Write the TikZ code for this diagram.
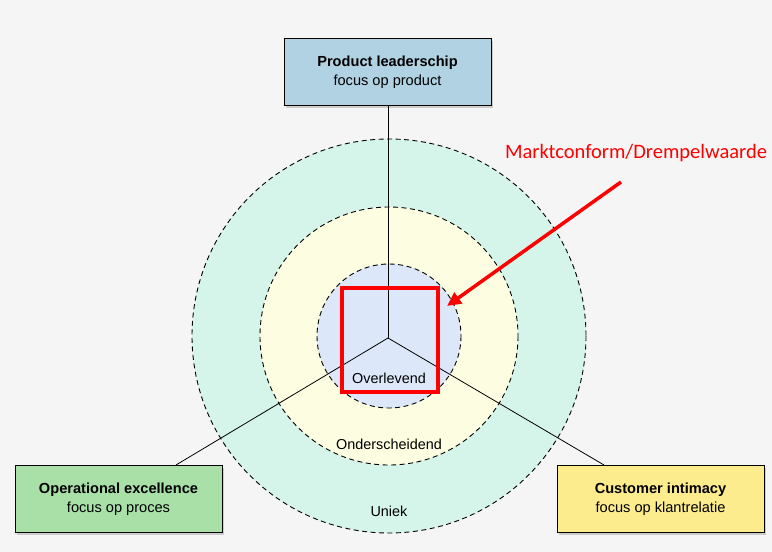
\documentclass[tikz,border=0pt]{standalone}
\usepackage{fontspec}
\setmainfont{Liberation Sans}
\newfontfamily\redfont{Carlito}
\usetikzlibrary{shadows,arrows.meta}
\definecolor{bg}{HTML}{F5F5F5}
\definecolor{outerc}{HTML}{D5F5EA}
\definecolor{midc}{HTML}{FDFDE2}
\definecolor{innerc}{HTML}{DCE8FA}
\definecolor{blueb}{HTML}{B1D2E2}
\definecolor{greenb}{HTML}{A8E0A8}
\definecolor{yellowb}{HTML}{FCEC8E}
\definecolor{redc}{HTML}{FF0000}
\tikzset{
  ring/.style={draw=black, line width=0.9pt, dash pattern=on 5pt off 3.5pt},
  strat/.style={draw=black, line width=1pt, minimum width=207pt, minimum height=67pt, align=center,
    font=\fontsize{14.6}{18.5}\selectfont, drop shadow={shadow xshift=1.5pt, shadow yshift=-2pt, opacity=0.35}},
  spoke/.style={draw=black, line width=0.8pt},
  lbl/.style={font=\fontsize{14.4}{17}\selectfont}
}
\begin{document}
\begin{tikzpicture}[x=1pt,y=-1pt]
\fill[bg] (0,0) rectangle (772,552);
\useasboundingbox (0,0) rectangle (772,552);
\coordinate (c) at (389,336);
\fill[outerc] (c) circle (197);
\draw[ring] (c) circle (197);
\fill[midc] (c) circle (129);
\draw[ring] (c) circle (129);
\fill[innerc] (c) circle (72);
\draw[ring] (c) circle (72);
\node[strat, fill=blueb] (pl) at (387.5,72) {\textbf{Product leaderschip}\\focus op product};
\node[strat, fill=greenb] (oe) at (118.5,499) {\textbf{Operational excellence}\\focus op proces};
\node[strat, fill=yellowb] (ci) at (660.5,499) {\textbf{Customer intimacy}\\focus op klantrelatie};
\coordinate (hub) at (388,338);
\coordinate (oeend) at (176,465);
\coordinate (ciend) at (604,465);
\draw[spoke] (pl.south -| hub) -- (hub);
\draw[spoke] (hub) -- (oeend);
\draw[spoke] (hub) -- (ciend);
\node[lbl] (ov) at (389,378) {Overlevend};
\node[lbl] (on) at (389,444) {Onderscheidend};
\node[lbl] (un) at (389,511) {Uniek};
\node[draw=redc, line width=4pt, minimum width=96pt, minimum height=104pt, inner sep=0pt] (sq) at (389.5,339.5) {};
\node[text=redc, font=\redfont\fontsize{20.5}{24}\selectfont] (mk) at (636,153) {Marktconform/Drempelwaarde};
\coordinate (as) at (621,182);
\coordinate (ae) at (447,306);
\draw[redc, line width=3.5pt, -{Triangle[length=14pt,width=13pt]}] (as) -- (ae);
\end{tikzpicture}
\end{document}
